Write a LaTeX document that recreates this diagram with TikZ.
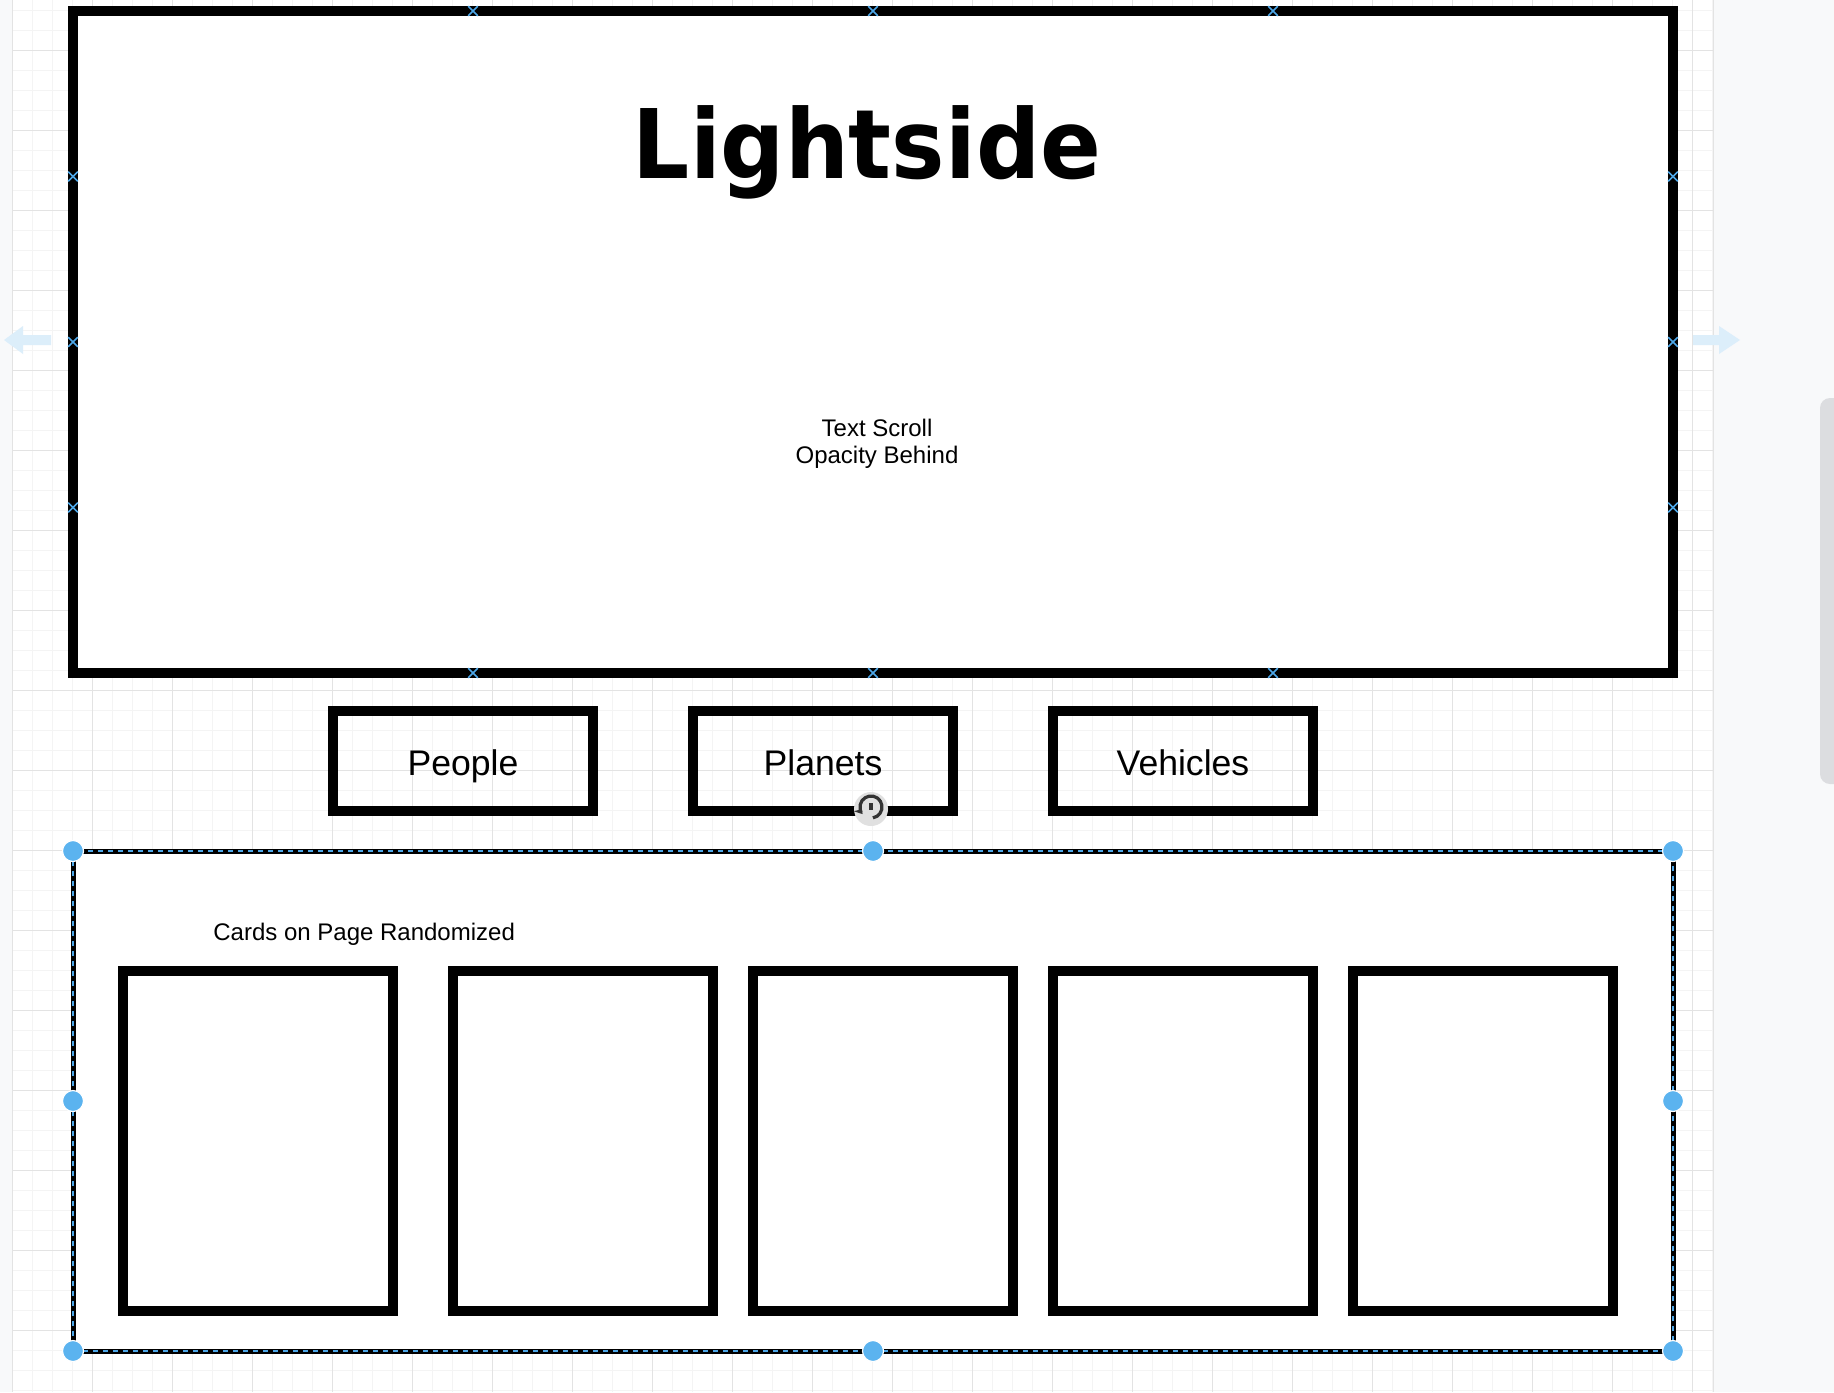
\documentclass[tikz,border=0pt]{standalone}
\usepackage{fontspec}
\setmainfont{Liberation Sans}
\newfontfamily\titlefont[FakeStretch=0.935]{DejaVu Sans}
\usetikzlibrary{shapes.misc,arrows.meta}
\definecolor{gridmajor}{HTML}{E3E3E3}
\definecolor{gridminor}{HTML}{F4F4F4}
\definecolor{panel}{HTML}{F8F9FA}
\definecolor{selblue}{HTML}{4DA7E8}
\definecolor{handle}{HTML}{5BB3EF}
\definecolor{hint}{HTML}{DCEEFA}
\definecolor{scrollbar}{HTML}{DCDDE0}
\begin{document}
\begin{tikzpicture}[x=0.5pt,y=-0.5pt,
    box/.style={draw,line width=5pt,inner sep=0pt,outer sep=0pt},
    btn/.style={box,minimum width=130pt,minimum height=50pt,font=\fontsize{17.8}{20}\selectfont,text height=1.7em,text depth=0.21em},
    card/.style={box,fill=white,minimum height=170pt},
    label/.style={inner sep=0pt,font=\fontsize{12}{13.5}\selectfont},
    marker/.style={cross out,draw=selblue,line width=0.8pt,minimum size=4pt,inner sep=0pt},
    dot/.style={circle,fill=handle,draw=white,line width=0.6pt,minimum size=10.5pt,inner sep=0pt}]
    \useasboundingbox (0,0) rectangle (1834,1392);
    \fill[white] (0,0) rectangle (1834,1392);
    \foreach \x in {12,32,...,1712}
        \draw[gridminor,line width=0.5pt] (\x,0) -- (\x,1392);
    \foreach \y in {10,30,...,1390}
        \draw[gridminor,line width=0.5pt] (12,\y) -- (1713,\y);
    \foreach \x in {12,92,...,1712}
        \draw[gridmajor,line width=0.5pt] (\x,0) -- (\x,1392);
    \foreach \y in {50,130,...,1370}
        \draw[gridmajor,line width=0.5pt] (12,\y) -- (1713,\y);
    \fill[panel] (0,0) rectangle (12,1392);
    \fill[panel] (1713,0) rectangle (1834,1392);
    \draw[gridmajor,line width=0.5pt] (12,0) -- (12,1392);
    \draw[gridmajor,line width=0.5pt] (1713,0) -- (1713,1392);
    \begin{scope}
        \clip (0,0) rectangle (1834,1392);
        \fill[scrollbar,rounded corners=5pt] (1820,398) rectangle (1850,784);
    \end{scope}

    \fill[hint] (4,340) -- (23,326) -- (23,335) -- (51,335) -- (51,345) -- (23,345) -- (23,354) -- cycle;
    \fill[hint] (1740,340) -- (1719,326) -- (1719,335) -- (1693,335) -- (1693,345) -- (1719,345) -- (1719,354) -- cycle;

    \node[box,fill=white,minimum width=800pt,minimum height=331pt] (screen) at (873,342) {};
    \node[inner sep=0pt,anchor=base,font=\titlefont\bfseries\fontsize{48}{48}\selectfont] (title) at (867,178) {Lightside};
    \node[label,anchor=base,align=center] (scrolltext) at (877,463) {Text Scroll\\Opacity Behind};
    \foreach \x in {473,873,1273} {
        \node[marker] at (\x,11) {};
        \node[marker] at (\x,673) {};
    }
    \foreach \y in {176.5,342,507.5} {
        \node[marker] at (73,\y) {};
        \node[marker] at (1673,\y) {};
    }

    \node[btn] (people) at (463,761) {People};
    \node[btn] (planets) at (823,761) {Planets};
    \node[btn] (vehicles) at (1183,761) {Vehicles};

    \node[draw,line width=2.5pt,fill=white,inner sep=0pt,outer sep=0pt,minimum width=800pt,minimum height=250pt] (cards) at (873,1101) {};
    \node[label,anchor=base west] (cardtitle) at (213,940) {Cards on Page Randomized};
    \node[card,minimum width=135pt] (card1) at (258,1141) {};
    \foreach \i/\x in {2/583,3/883,4/1183,5/1483}
        \node[card,minimum width=130pt] (card\i) at (\x,1141) {};

    \draw[selblue,line width=0.75pt,dash pattern=on 2.5pt off 2.5pt] (cards.north west) rectangle (cards.south east);
    \foreach \a in {north west,north,north east,east,south east,south,south west,west}
        \node[dot] at (cards.\a) {};

    \fill[black!12] (871,809) circle[radius=8.5pt];
    \draw[black!80,line width=1.6pt,-{Stealth[length=4pt,width=5pt]}] (871,807) ++(-80:5.5pt) arc[start angle=-80,end angle=220,radius=5.5pt];
    \fill[black!80] (869,803) rectangle (873,810);
\end{tikzpicture}
\end{document}
